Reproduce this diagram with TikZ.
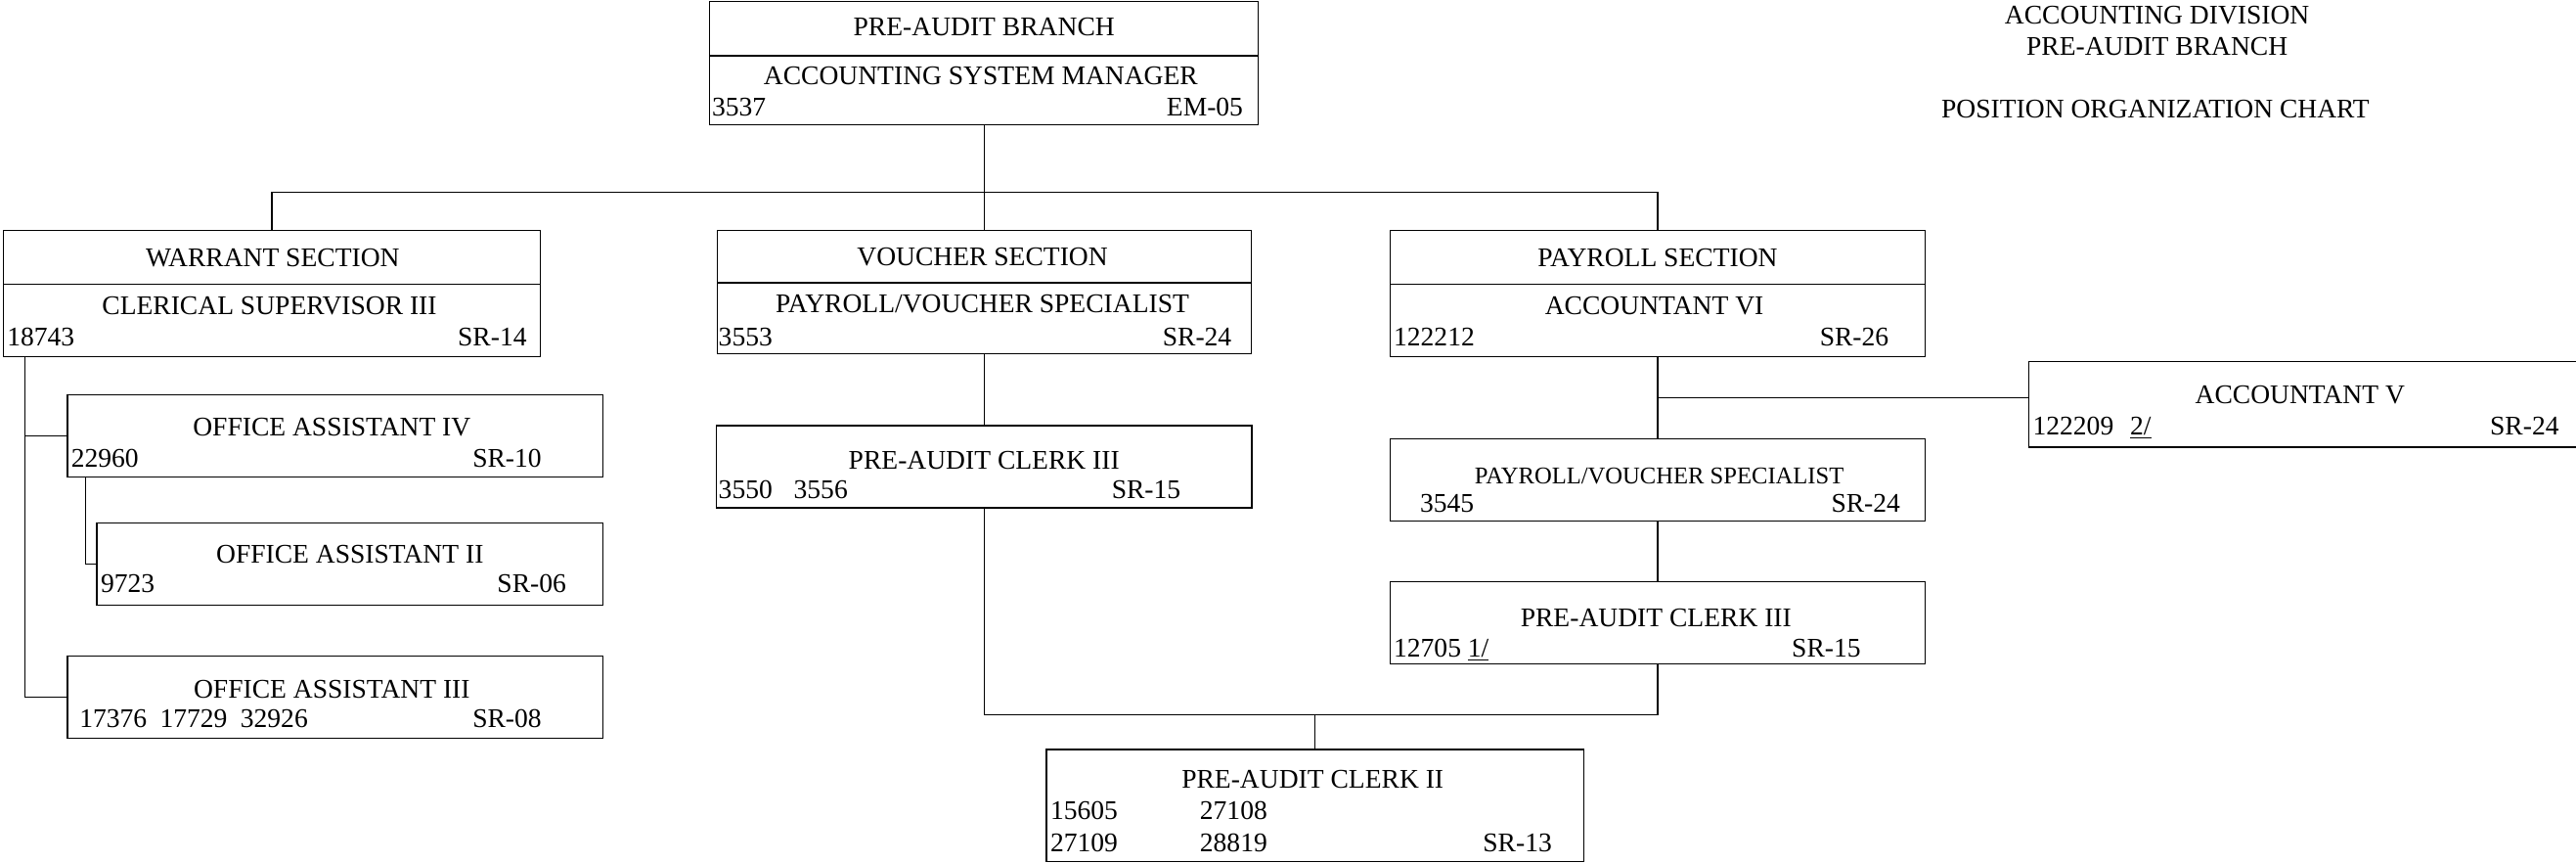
\documentclass[tikz,border=0pt]{standalone}
\usepackage{fontspec}
\setmainfont{Liberation Serif}
\usetikzlibrary{positioning}

\begin{document}
\begin{tikzpicture}[x=0.03cm,y=-0.03cm,line width=0.65pt,
   box/.style={draw,inner sep=0pt},
   sz/.style 2 args={minimum width=#1*0.03cm,minimum height=#2*0.03cm},
   txt/.style={inner sep=0pt,text height=9.3pt,text depth=0pt,font=\fontsize{14}{16}\selectfont},
   small/.style={txt,font=\fontsize{12.5}{14}\selectfont}]
   \clip (0,0) rectangle (1568,525);
   % headings
   \node[txt] (ttl_1) at (1313,9) {ACCOUNTING DIVISION};
   \node[txt] (ttl_2) at (1313,28) {PRE-AUDIT BRANCH};
   \node[txt] (ttl_3) at (1312,66) {POSITION ORGANIZATION CHART};
   % boxes
   \node[box,sz={334}{33}] (top_head) at (599,17.5) {};
   \node[box,sz={334}{42}] (top_body) at (599,55) {};
   \node[box,sz={327}{33}] (war_head) at (165.5,156.5) {};
   \node[box,sz={327}{44}] (war_body) at (165.5,195) {};
   \node[box,sz={325}{32}] (vou_head) at (599,156) {};
   \node[box,sz={325}{43}] (vou_body) at (599,193.5) {};
   \node[box,sz={326}{33}] (pay_head) at (1009,156.5) {};
   \node[box,sz={326}{44}] (pay_body) at (1009,195) {};
   \node[box,sz={326}{50}] (oa_4) at (204,265) {};
   \node[box,sz={308}{50}] (oa_2) at (213,343) {};
   \node[box,sz={326}{50}] (oa_3) at (204,424) {};
   \node[box,sz={326}{50}] (pac3_v) at (599,284) {};
   \node[box,sz={326}{50}] (pvs_p) at (1009,292) {};
   \node[box,sz={326}{50}] (pac3_p) at (1009,379) {};
   \node[box,sz={370}{52}] (acc_5) at (1420,246) {};
   \node[box,sz={327}{68}] (pac_2) at (800.5,490) {};
   % texts
   \node[txt] (top_t) at (599,16) {PRE-AUDIT BRANCH};
   \node[txt] (top_p) at (597,46) {ACCOUNTING SYSTEM MANAGER};
   \node[txt,anchor=west] (top_n) at (433,65) {3537};
   \node[txt,anchor=east] (top_g) at (757,65) {EM-05};
   \node[txt] (war_t) at (166,157) {WARRANT SECTION};
   \node[txt] (war_p) at (164,186) {CLERICAL SUPERVISOR III};
   \node[txt,anchor=west] (war_n) at (4,205) {18743};
   \node[txt,anchor=east] (war_g) at (321,205) {SR-14};
   \node[txt] (vou_t) at (598,156) {VOUCHER SECTION};
   \node[txt] (vou_p) at (598,185) {PAYROLL/VOUCHER SPECIALIST};
   \node[txt,anchor=west] (vou_n) at (437,205) {3553};
   \node[txt,anchor=east] (vou_g) at (750,205) {SR-24};
   \node[txt] (pay_t) at (1009,157) {PAYROLL SECTION};
   \node[txt] (pay_p) at (1007,186) {ACCOUNTANT VI};
   \node[txt,anchor=west] (pay_n) at (848,205) {122212};
   \node[txt,anchor=east] (pay_g) at (1150,205) {SR-26};
   \node[txt] (oa_4t) at (202,260) {OFFICE ASSISTANT IV};
   \node[txt,anchor=west] (oa_4n) at (43,279) {22960};
   \node[txt,anchor=east] (oa_4g) at (330,279) {SR-10};
   \node[txt] (oa_2t) at (213,337) {OFFICE ASSISTANT II};
   \node[txt,anchor=west] (oa_2n) at (61,355) {9723};
   \node[txt,anchor=east] (oa_2g) at (345,355) {SR-06};
   \node[txt] (oa_3t) at (202,419) {OFFICE ASSISTANT III};
   \node[txt,anchor=west] (oa_3n) at (48,437) {17376\hspace{0.24cm}17729\hspace{0.24cm}32926};
   \node[txt,anchor=east] (oa_3g) at (330,437) {SR-08};
   \node[txt] (pac3_vt) at (599,280) {PRE-AUDIT CLERK III};
   \node[txt,anchor=west] (pac3_vn) at (437,298) {3550\hspace{0.39cm}3556};
   \node[txt,anchor=east] (pac3_vg) at (719,298) {SR-15};
   \node[small] (pvs_pt) at (1010,289) {PAYROLL/VOUCHER SPECIALIST};
   \node[txt,anchor=west] (pvs_pn) at (864,306) {3545};
   \node[txt,anchor=east] (pvs_pg) at (1157,306) {SR-24};
   \node[txt] (pac3_pt) at (1008,376) {PRE-AUDIT CLERK III};
   \node[txt,anchor=west] (pac3_pn) at (848,394) {12705 \underline{1/}};
   \node[txt,anchor=east] (pac3_pg) at (1133,394) {SR-15};
   \node[txt] (acc_5t) at (1400,240) {ACCOUNTANT V};
   \node[txt,anchor=west] (acc_5n) at (1237,259) {122209\hspace{0.3cm}\underline{2/}};
   \node[txt,anchor=east] (acc_5g) at (1558,259) {SR-24};
   \node[txt] (pac_2t) at (799,474) {PRE-AUDIT CLERK II};
   \node[txt,anchor=west] (pac_2a) at (639,493) {15605};
   \node[txt,anchor=west] (pac_2b) at (730,493) {27108};
   \node[txt,anchor=west] (pac_2c) at (639,513) {27109};
   \node[txt,anchor=west] (pac_2d) at (730,513) {28819};
   \node[txt,anchor=east] (pac_2g) at (945,513) {SR-13};
   % lines
   \coordinate (bus) at (599,117);
   \coordinate (low_bus) at (801,435);
   \draw (top_body.south) -- (vou_head.north);
   \draw (war_head.north) -- (war_head.north |- bus) -- (pay_head.north |- bus) -- (pay_head.north);
   \draw (15,0 |- war_body.south) |- (oa_3.west);
   \draw (15,0 |- oa_4.west) -- (oa_4.west);
   \draw (52,0 |- oa_4.south) |- (oa_2.west);
   \draw (vou_body.south) -- (pac3_v.north);
   \draw (pac3_v.south) |- (pac3_p.south |- low_bus) -- (pac3_p.south);
   \draw (pac_2.north) -- (pac_2.north |- low_bus);
   \draw (pay_body.south) -- (pvs_p.north);
   \draw (pay_body.south |- 0,242) -- (acc_5.west |- 0,242);
   \draw (pvs_p.south) -- (pac3_p.north);
\end{tikzpicture}
\end{document}
